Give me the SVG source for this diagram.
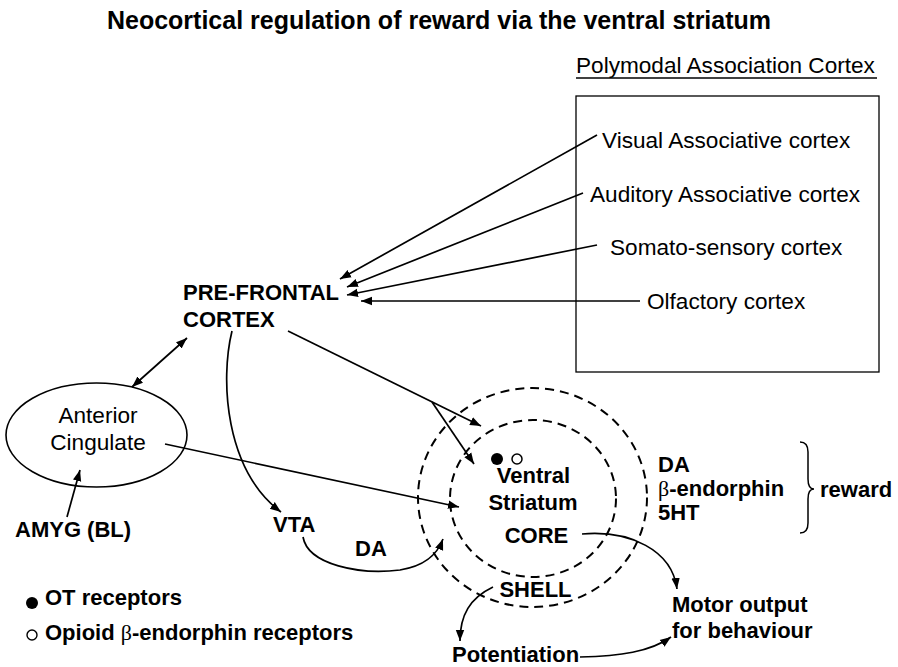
<svg xmlns="http://www.w3.org/2000/svg" width="898" height="667" viewBox="0 0 898 667">
<style>
text{font-family:"Liberation Sans",Arial,sans-serif;fill:#000}
.t{font-size:25px;font-weight:bold}
.r{font-size:22.6px}
.b{font-size:22px;font-weight:bold}
.sym{font-family:"Liberation Serif","Times New Roman",serif;font-weight:normal}
.ln{fill:none;stroke:#000;stroke-width:1.7}
.ds{fill:none;stroke:#000;stroke-width:2;stroke-dasharray:9 6}
</style>
<defs>
<marker id="ah" markerUnits="userSpaceOnUse" markerWidth="12" markerHeight="10" refX="11" refY="5" orient="auto-start-reverse">
<path d="M0,0.8 L11,5 L0,9.2 Z" fill="#000"/>
</marker>
</defs>
<rect width="898" height="667" fill="#fff"/>
<text class="t" x="439" y="29" text-anchor="middle">Neocortical regulation of reward via the ventral striatum</text>

<g id="polymodal">
<text class="r" x="576" y="73">Polymodal Association Cortex</text>
<line x1="576" y1="78" x2="877" y2="78" stroke="#000" stroke-width="1.5"/>
<rect x="576" y="96" width="303" height="276" fill="none" stroke="#000" stroke-width="1.3"/>
</g>
<g id="visual"><text class="r" x="602" y="148">Visual Associative cortex</text></g>
<g id="auditory"><text class="r" x="590" y="202">Auditory Associative cortex</text></g>
<g id="somato"><text class="r" x="610" y="255">Somato-sensory cortex</text></g>
<g id="olfactory"><text class="r" x="647" y="309">Olfactory cortex</text></g>

<g id="pfc">
<text class="b" x="183" y="300">PRE-FRONTAL</text>
<text class="b" x="183" y="327">CORTEX</text>
</g>

<g id="anterior-cingulate">
<ellipse cx="96.5" cy="435" rx="90.5" ry="52" fill="none" stroke="#000" stroke-width="1.6"/>
<text class="r" x="98" y="423" text-anchor="middle">Anterior</text>
<text class="r" x="98" y="450" text-anchor="middle">Cingulate</text>
</g>

<g id="amyg"><text class="b" x="15" y="537">AMYG (BL)</text></g>
<g id="vta"><text class="b" x="273" y="532">VTA</text></g>
<g id="da-label"><text class="b" x="355" y="556">DA</text></g>

<g id="ventral-striatum">
<ellipse class="ds" cx="532.5" cy="497.5" rx="114.5" ry="109.5"/>
<ellipse class="ds" cx="533" cy="498.5" rx="83" ry="78.5"/>
<circle cx="497" cy="459" r="6" fill="#000"/>
<circle cx="517" cy="459" r="5" fill="#fff" stroke="#000" stroke-width="1.5"/>
<text class="b" x="533.5" y="483" text-anchor="middle">Ventral</text>
<text class="b" x="533" y="510" text-anchor="middle">Striatum</text>
<text class="b" x="536.5" y="543" text-anchor="middle">CORE</text>
<text class="b" x="535.5" y="597" text-anchor="middle">SHELL</text>
</g>

<g id="neurotransmitters">
<text class="b" x="658" y="472">DA</text>
<text class="b" x="658" y="496"><tspan class="sym">β</tspan>-endorphin</text>
<text class="b" x="658" y="520">5HT</text>
<path d="M800,442 Q808,442 808,452 L808,479 Q808,489 814,489 Q808,489 808,499 L808,523 Q808,533 800,533" fill="none" stroke="#000" stroke-width="1.5"/>
<text class="b" x="820" y="497">reward</text>
</g>

<g id="motor"><text class="b" x="672" y="612">Motor output</text><text class="b" x="672" y="638">for behaviour</text></g>
<g id="potentiation"><text class="b" x="452" y="662">Potentiation</text></g>

<g id="legend">
<circle cx="32" cy="603" r="6" fill="#000"/>
<text class="b" x="45" y="605">OT receptors</text>
<circle cx="32" cy="635" r="5" fill="#fff" stroke="#000" stroke-width="1.4"/>
<text class="b" x="45" y="640">Opioid <tspan class="sym">β</tspan>-endorphin receptors</text>
</g>

<g id="connectors">
<line class="ln" x1="597" y1="135" x2="340" y2="279" marker-end="url(#ah)"/>
<line class="ln" x1="583" y1="193" x2="347" y2="287" marker-end="url(#ah)"/>
<line class="ln" x1="597" y1="245" x2="347" y2="295" marker-end="url(#ah)"/>
<line class="ln" x1="640" y1="301" x2="361" y2="301" marker-end="url(#ah)"/>
<line class="ln" x1="132" y1="387" x2="187" y2="338" marker-start="url(#ah)" marker-end="url(#ah)"/>
<line class="ln" x1="67" y1="517" x2="80" y2="470" marker-end="url(#ah)"/>
<line class="ln" x1="288" y1="331" x2="481" y2="426" marker-end="url(#ah)"/>
<line class="ln" x1="432" y1="402" x2="474" y2="464" marker-end="url(#ah)"/>
<line class="ln" x1="165" y1="444" x2="459" y2="507" marker-end="url(#ah)"/>
<path class="ln" d="M232,331 C220,380 225,470 281,512" marker-end="url(#ah)"/>
<path class="ln" d="M303,537 C308,565 360,575 400,570 C425,566 437,555 443,539" marker-end="url(#ah)"/>
<path class="ln" d="M582,534 C630,530 672,550 677,589" marker-end="url(#ah)"/>
<path class="ln" d="M493,587 C470,598 460,615 460,641" marker-end="url(#ah)"/>
<path class="ln" d="M580,657 C620,656 650,652 671,637" marker-end="url(#ah)"/>
</g>
</svg>
